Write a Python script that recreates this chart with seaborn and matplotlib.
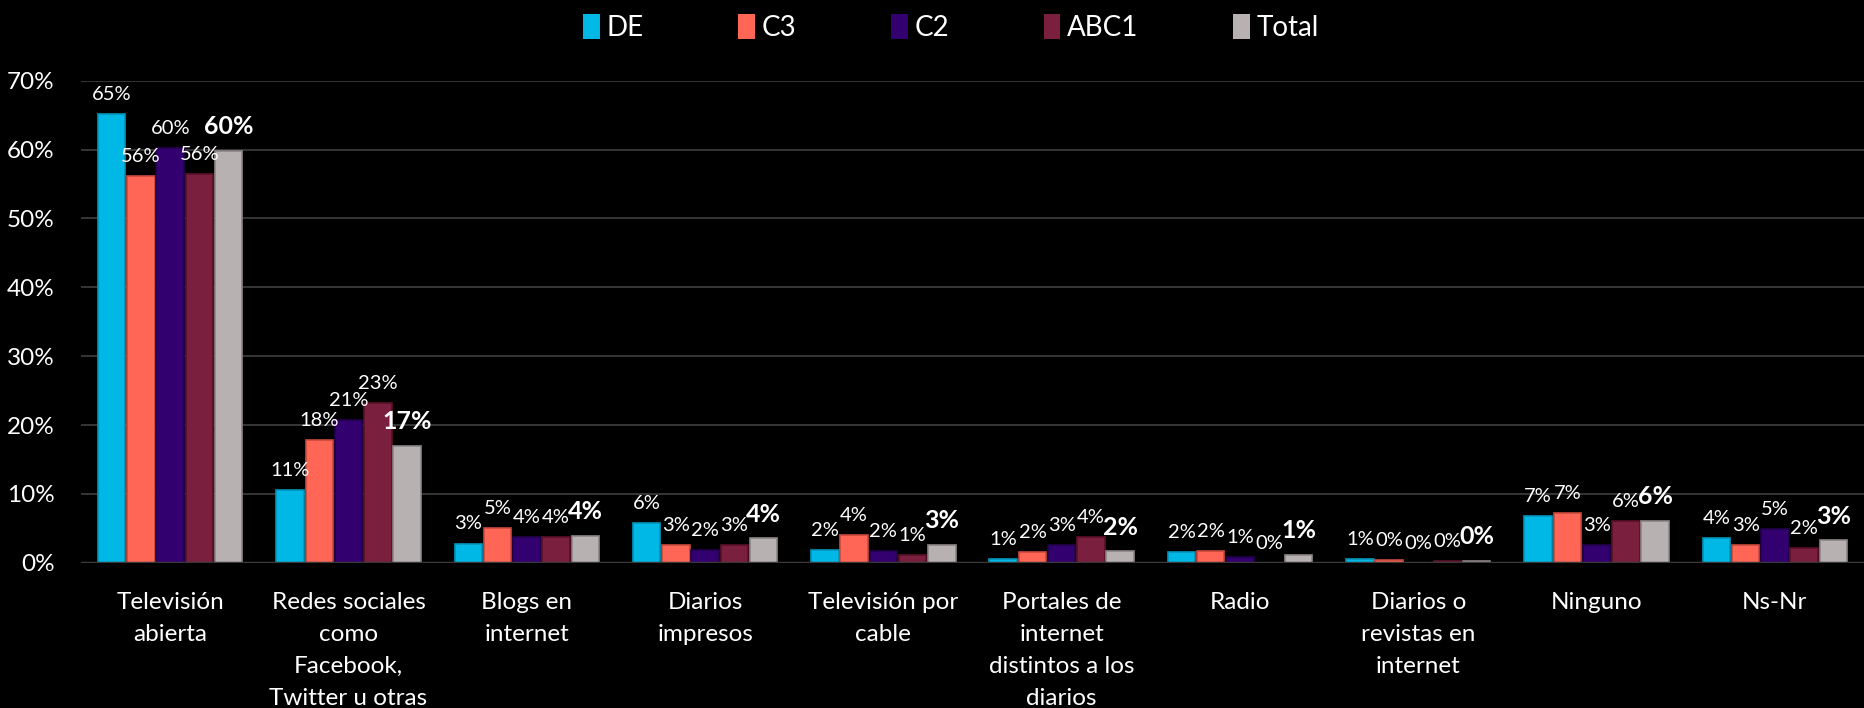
import matplotlib
matplotlib.use("Agg")
import matplotlib.pyplot as plt
import numpy as np
import pandas as pd
import seaborn as sns

# medios donde se informa, por grupo socioeconomico (%)
categorias = ["Televisión\nabierta", "Redes sociales\ncomo\nFacebook,\nTwitter u otras",
              "Blogs en\ninternet", "Diarios\nimpresos", "Televisión por\ncable",
              "Portales de\ninternet\ndistintos a los\ndiarios", "Radio",
              "Diarios o\nrevistas en\ninternet", "Ninguno", "Ns-Nr"]
grupos = ["DE", "C3", "C2", "ABC1", "Total"]

de    = [65.1, 10.6, 2.8, 5.8, 1.9, 0.6, 1.6, 0.6, 6.8, 3.6]
c3    = [56.1, 17.8, 5.1, 2.6, 4.1, 1.6, 1.7, 0.4, 7.2, 2.6]
c2    = [60.2, 20.7, 3.7, 1.9, 1.7, 2.6, 0.8, 0.0, 2.6, 4.9]
abc1  = [56.4, 23.2, 3.7, 2.6, 1.1, 3.8, 0.0, 0.3, 6.1, 2.1]
total = [59.8, 17.0, 3.9, 3.6, 2.6, 1.7, 1.2, 0.3, 6.1, 3.3]

colores = ["#00B8E6", "#FF6655", "#330070", "#7A1F3D", "#B8B1B1"]
bordes = ["#0094BA", "#C84A3C", "#22004A", "#5A1028", "#8C8585"]

df = pd.DataFrame({"cat": categorias * 5,
                   "grupo": np.repeat(grupos, len(categorias)),
                   "val": de + c3 + c2 + abc1 + total})

sns.set_style("dark")
plt.rcParams["font.family"] = ["Lato", "DejaVu Sans"]

fig = plt.figure(figsize=(18.64, 7.08), dpi=100, facecolor="black")
ax = fig.add_axes([0.0435, 0.205, 0.9565, 0.681])
ax.set_facecolor("black")

sns.barplot(data=df, x="cat", y="val", hue="grupo", palette=colores,
            saturation=1, width=0.82, gap=0.06, ax=ax, legend=True)

for i, cont in enumerate(ax.containers):
    for p in cont.patches:
        p.set_edgecolor(bordes[i])
        p.set_linewidth(1.2)
    vals = [f"{v:.0f}%" for v in cont.datavalues]
    if grupos[i] == "Total":
        ax.bar_label(cont, labels=vals, padding=9, color="white",
                     fontsize=18, fontweight="bold")
    else:
        ax.bar_label(cont, labels=vals, padding=8, color="white", fontsize=14.5)

ax.set_ylim(0, 70)
ax.set_xlim(-0.5, 9.5)
ax.set_yticks(range(0, 71, 10))
ax.set_yticklabels([f"{t}%" for t in range(0, 71, 10)], color="white", fontsize=17.5)
ax.tick_params(axis="y", length=0, pad=19)
ax.tick_params(axis="x", length=0, pad=21, labelsize=17.5, labelcolor="white")
for lab in ax.get_xticklabels():
    lab.set_linespacing(1.65)
    lab.set_verticalalignment("top")
ax.set_xlabel("")
ax.set_ylabel("")
ax.grid(axis="y", color="#3a3a3a", linewidth=1.3)
ax.grid(axis="x", visible=False)
ax.axhline(0, color="#3a3a3a", linewidth=2.5)
for s in ax.spines.values():
    s.set_visible(False)

leg = ax.legend(loc="upper center", bbox_to_anchor=(0.488, 1.19), ncol=5,
                frameon=False, fontsize=20, handlelength=0.6, handleheight=1.0,
                handletextpad=0.25, columnspacing=3.4, labelcolor="white")
for h in leg.legend_handles:
    h.set_edgecolor("none")

fig.savefig("out.png", dpi=100, facecolor="black")
